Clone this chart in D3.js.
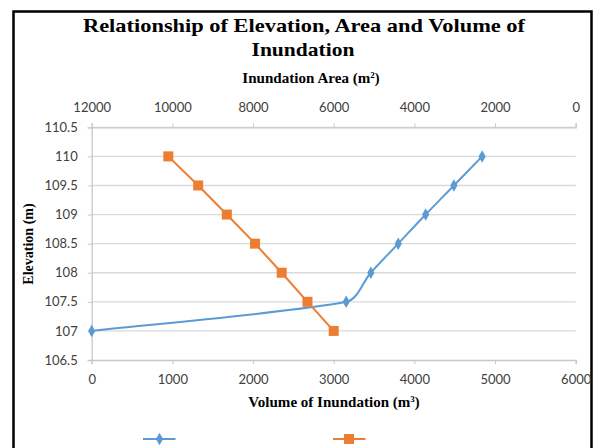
<!DOCTYPE html>
<html><head><meta charset="utf-8">
<script src="https://cdnjs.cloudflare.com/ajax/libs/d3/7.8.5/d3.min.js"></script>
<style>body{margin:0;background:#fff}svg{display:block}</style>
</head><body>
<svg id="c" width="595" height="448"></svg>
<script>
const elevations = [107, 107.5, 108, 108.5, 109, 109.5, 110];
const volumes = [0, 3155, 3460, 3800, 4140, 4490, 4840];
const areas = [6000, 6650, 7290, 7950, 8650, 9360, 10100];
const yTicks = [106.5, 107, 107.5, 108, 108.5, 109, 109.5, 110, 110.5];
const volTicks = [0, 1000, 2000, 3000, 4000, 5000, 6000];
const areaTicks = [12000, 10000, 8000, 6000, 4000, 2000, 0];

const svg = d3.select("#c");
const W = 595, H = 448;
const L = 91.7, R = 575.7, T = 127.3, B = 360;
const x = d3.scaleLinear().domain([0, 6000]).range([L, R]);
const xTop = d3.scaleLinear().domain([12000, 0]).range([L, R]);
const y = d3.scaleLinear().domain([106.5, 110.5]).range([B, T]);
const blue = "#5b9bd5", orange = "#ed7d31";
const tickFont = "Lato, 'Open Sans', sans-serif";
const serif = "'Liberation Serif', 'Times New Roman', serif";

svg.append("rect").attr("x", 0).attr("y", 0).attr("width", W).attr("height", H).attr("fill", "#fff");
svg.append("rect").attr("x", 13.5).attr("y", 11.5).attr("width", 578).attr("height", 460)
  .attr("fill", "none").attr("stroke", "#000").attr("stroke-width", 2.5);

// gridlines
svg.append("g").selectAll("line").data(yTicks.filter(d => d > 106.5)).join("line")
  .attr("x1", L).attr("x2", R).attr("y1", d => y(d)).attr("y2", d => y(d))
  .attr("stroke", "#d9d9d9").attr("stroke-width", 1.3);

// axes
const gB = svg.append("g").attr("transform", `translate(0,${B})`)
  .call(d3.axisBottom(x).tickValues(volTicks).tickSize(4).tickPadding(8).tickFormat(d3.format("d")));
const gT = svg.append("g").attr("transform", `translate(0,${T})`)
  .call(d3.axisTop(xTop).tickValues(areaTicks).tickSize(4).tickPadding(11).tickFormat(d3.format("d")));
const gL = svg.append("g").attr("transform", `translate(${L},0)`)
  .call(d3.axisLeft(y).tickValues(yTicks).tickSize(4).tickPadding(10).tickFormat(d => String(d)));
[gB, gT, gL].forEach(g => {
  g.select(".domain").attr("stroke", "#c8c8c8").attr("stroke-width", 1.3);
  g.selectAll(".tick line").attr("stroke", "#c8c8c8");
  g.selectAll("text").attr("fill", "#404040").style("font-family", tickFont).style("font-size", "13px");
});
gB.selectAll(".tick text").attr("dy", "0.9em");

// titles
const title = svg.append("text").attr("text-anchor", "middle").attr("font-family", serif)
  .attr("font-weight", "bold").attr("font-size", 19.5).attr("fill", "#000");
title.append("tspan").attr("x", 304).attr("y", 32).attr("textLength", 442).attr("lengthAdjust", "spacingAndGlyphs")
  .text("Relationship of Elevation, Area and Volume of");
title.append("tspan").attr("x", 303).attr("y", 56).attr("textLength", 103).attr("lengthAdjust", "spacingAndGlyphs")
  .text("Inundation");

const topT = svg.append("text").attr("x", 311).attr("y", 83).attr("text-anchor", "middle")
  .attr("font-family", serif).attr("font-weight", "bold").attr("font-size", 14.5).attr("fill", "#000");
topT.append("tspan").attr("textLength", 128).attr("lengthAdjust", "spacingAndGlyphs").text("Inundation  Area (m");
topT.append("tspan").attr("font-size", 9).attr("dy", -5).text("2");
topT.append("tspan").attr("dy", 5).text(")");

const botT = svg.append("text").attr("x", 334).attr("y", 407).attr("text-anchor", "middle")
  .attr("font-family", serif).attr("font-weight", "bold").attr("font-size", 14.5).attr("fill", "#000");
botT.append("tspan").attr("textLength", 162).attr("lengthAdjust", "spacingAndGlyphs").text("Volume of Inundation  (m");
botT.append("tspan").attr("font-size", 9).attr("dy", -5).text("3");
botT.append("tspan").attr("dy", 5).text(")");

svg.append("text").attr("transform", "translate(33,244) rotate(-90)").attr("text-anchor", "middle")
  .attr("font-family", serif).attr("font-weight", "bold").attr("font-size", 14).attr("fill", "#000")
  .text("Elevation (m)");

// blue series (volume) - Excel-like smoothed line
const volData = elevations.map((e, i) => ({ v: volumes[i], e }));
const pts = volData.map(d => [x(d.v), y(d.e)]);
function smoothPath(p) {
  const n = p.length, path = d3.path();
  const dist = (a, b) => Math.hypot(b[0] - a[0], b[1] - a[1]);
  const tan = i => {
    const a = p[Math.max(0, i - 1)], b = p[Math.min(n - 1, i + 1)];
    return [b[0] - a[0], b[1] - a[1]];
  };
  path.moveTo(p[0][0], p[0][1]);
  for (let i = 0; i < n - 1; i++) {
    const d = dist(p[i], p[i + 1]);
    const dPrev = i > 0 ? dist(p[i - 1], p[i]) : d;
    const dNext = i < n - 2 ? dist(p[i + 1], p[i + 2]) : d;
    const t0 = tan(i), t1 = tan(i + 1);
    const w0 = Math.min(1, 2 * d / (dPrev + d)) / 6;
    const w1 = Math.min(1, 2 * d / (d + dNext)) / 6;
    path.bezierCurveTo(p[i][0] + t0[0] * w0, p[i][1] + t0[1] * w0,
      p[i + 1][0] - t1[0] * w1, p[i + 1][1] - t1[1] * w1, p[i + 1][0], p[i + 1][1]);
  }
  return path.toString();
}
svg.append("path").attr("d", smoothPath(pts))
  .attr("fill", "none").attr("stroke", blue).attr("stroke-width", 2);
const diamond = d3.symbol().type(d3.symbolDiamond).size(45);
svg.append("g").selectAll("path").data(volData).join("path")
  .attr("transform", d => `translate(${x(d.v)},${y(d.e)})`).attr("d", diamond).attr("fill", blue);

// orange series (area)
const areaData = elevations.map((e, i) => ({ a: areas[i], e }));
svg.append("path").datum(areaData)
  .attr("d", d3.line().x(d => xTop(d.a)).y(d => y(d.e)))
  .attr("fill", "none").attr("stroke", orange).attr("stroke-width", 2);
svg.append("g").selectAll("rect").data(areaData).join("rect")
  .attr("x", d => xTop(d.a) - 5).attr("y", d => y(d.e) - 5).attr("width", 10).attr("height", 10)
  .attr("fill", orange);

// legend
const lg = svg.append("g");
lg.append("line").attr("x1", 143).attr("x2", 175.5).attr("y1", 439).attr("y2", 439).attr("stroke", blue).attr("stroke-width", 2);
lg.append("path").attr("transform", "translate(159.5,439)").attr("d", diamond).attr("fill", blue);
lg.append("line").attr("x1", 333).attr("x2", 365.5).attr("y1", 439).attr("y2", 439).attr("stroke", orange).attr("stroke-width", 2);
lg.append("rect").attr("x", 344).attr("y", 434).attr("width", 10).attr("height", 10).attr("fill", orange);
</script>
</body></html>
